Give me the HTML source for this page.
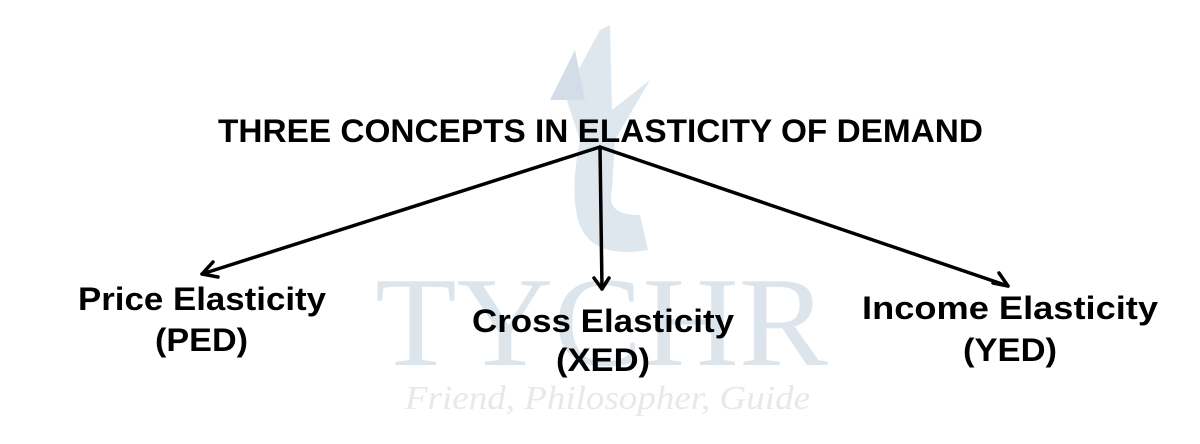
<!DOCTYPE html>
<html><head><meta charset="utf-8"><style>
html,body{margin:0;padding:0;background:#fff;}
svg{display:block}
</style></head><body>
<svg width="1200" height="444" viewBox="0 0 1200 444" xmlns="http://www.w3.org/2000/svg">
<rect width="1200" height="444" fill="#fff"/>
<g fill="#dfe7ee">
<path d="M565 95 L600 30 L610 25 L612 110 L650 80 L615 140 L612 190 Q605 215 640 215 L648 250 Q590 260 578 220 Q570 190 580 140 Z"/>
<path d="M550 100 L575 50 L585 100 Z" fill="#d3dde7"/>
</g>
<text x="375" y="365" font-family="Liberation Serif, serif" font-size="128" fill="#dde5ec" textLength="453" lengthAdjust="spacingAndGlyphs">TYCHR</text>
<text x="405" y="409" font-family="Liberation Serif, serif" font-style="italic" font-size="34" fill="#e6e8eb" textLength="405" lengthAdjust="spacingAndGlyphs">Friend, Philosopher, Guide</text>
<text x="218" y="142" font-family="Liberation Sans, sans-serif" font-weight="bold" font-size="32" fill="#000" textLength="765" lengthAdjust="spacingAndGlyphs">THREE CONCEPTS IN ELASTICITY OF DEMAND</text>
<g stroke="#000" stroke-width="3.5" fill="none" stroke-linecap="round" stroke-linejoin="round">
<line x1="600" y1="147" x2="202" y2="274"/>
<line x1="600" y1="147" x2="602" y2="289"/>
<line x1="600" y1="147" x2="1008" y2="286"/>
<polyline points="213,262 202,274 218,277"/>
<polyline points="594,278 602,289 609,278"/>
<polyline points="993,283 1008,286 999,273"/>
</g>
<g font-family="Liberation Sans, sans-serif" font-weight="bold" font-size="32" fill="#000">
<text x="78" y="310" textLength="248" lengthAdjust="spacingAndGlyphs">Price Elasticity</text>
<text x="155" y="351" textLength="93" lengthAdjust="spacingAndGlyphs">(PED)</text>
<text x="472" y="332" textLength="262" lengthAdjust="spacingAndGlyphs">Cross Elasticity</text>
<text x="556" y="371" textLength="94" lengthAdjust="spacingAndGlyphs">(XED)</text>
<text x="862" y="319" textLength="296" lengthAdjust="spacingAndGlyphs">Income Elasticity</text>
<text x="963" y="361" textLength="94" lengthAdjust="spacingAndGlyphs">(YED)</text>
</g>
</svg>
</body></html>
